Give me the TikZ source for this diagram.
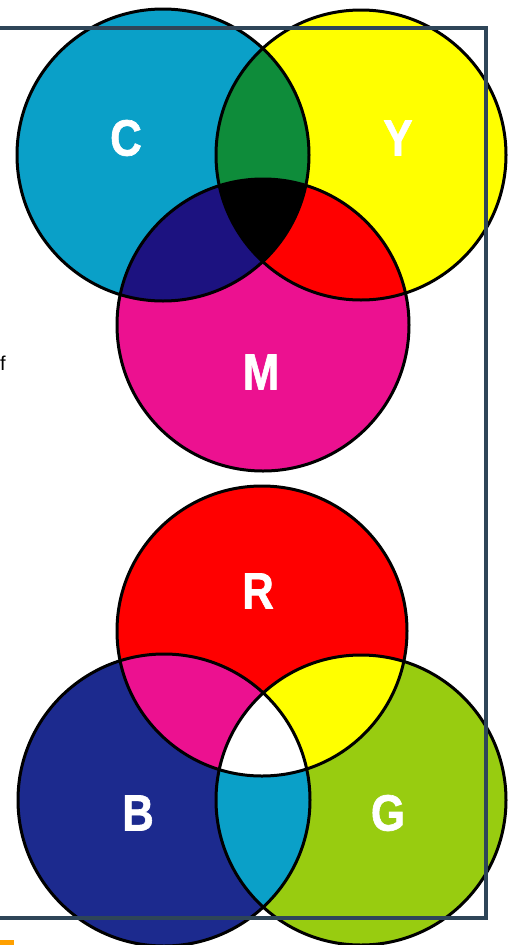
\documentclass[tikz,border=0pt]{standalone}
\usepackage{fontspec}
\setmainfont{Liberation Sans}
\newfontfamily\labfont[FakeBold=1.3]{Liberation Sans Bold}
\definecolor{cC}{HTML}{0AA0C8}
\definecolor{cY}{HTML}{FFFF00}
\definecolor{cM}{HTML}{EC1190}
\definecolor{cGreen}{HTML}{0E8C3A}
\definecolor{cNavy}{HTML}{1C1280}
\definecolor{cRed}{HTML}{FF0000}
\definecolor{cBlue}{HTML}{1C2A8E}
\definecolor{cLime}{HTML}{98CC10}
\definecolor{frameC}{HTML}{2E4558}
\definecolor{orangeC}{HTML}{FFA000}
\begin{document}
\begin{tikzpicture}[x=1pt,y=-1pt,
  ring/.style={draw=black,line width=3pt},
  lab/.style={text=white,font=\labfont\fontsize{51}{51}\selectfont,xscale=0.86,inner sep=0pt},
  framebox/.style={draw=frameC,line width=4.5pt}]
\useasboundingbox (0,0) rectangle (515,945);
% ---- top group: CMY ----
\coordinate (Cc) at (163,155);
\coordinate (Yc) at (361,155);
\coordinate (Mc) at (263,325);
\fill[cC] (Cc) circle (146);
\fill[cY] (Yc) circle (145);
\fill[cM] (Mc) circle (146);
\begin{scope}\clip (Cc) circle (146); \fill[cGreen] (Yc) circle (145); \end{scope}
\begin{scope}\clip (Cc) circle (146); \fill[cNavy] (Mc) circle (146); \end{scope}
\begin{scope}\clip (Yc) circle (145); \fill[cRed] (Mc) circle (146); \end{scope}
\begin{scope}\clip (Cc) circle (146); \clip (Yc) circle (145); \fill[black] (Mc) circle (146); \end{scope}
\draw[ring] (Cc) circle (146);
\draw[ring] (Yc) circle (145);
\draw[ring] (Mc) circle (146);
\node[lab] (lC) at (126,138) {C};
\node[lab] (lY) at (398,138) {Y};
\node[lab] (lM) at (261,372) {M};
% ---- bottom group: RGB ----
\coordinate (Rc) at (262,631);
\coordinate (Bc) at (164,800);
\coordinate (Gc) at (361,800);
\fill[cRed] (Rc) circle (145);
\fill[cBlue] (Bc) circle (146);
\fill[cLime] (Gc) circle (145);
\begin{scope}\clip (Rc) circle (145); \fill[cM] (Bc) circle (146); \end{scope}
\begin{scope}\clip (Rc) circle (145); \fill[cY] (Gc) circle (145); \end{scope}
\begin{scope}\clip (Bc) circle (146); \fill[cC] (Gc) circle (145); \end{scope}
\begin{scope}\clip (Rc) circle (145); \clip (Bc) circle (146); \fill[white] (Gc) circle (145); \end{scope}
\draw[ring] (Rc) circle (145);
\draw[ring] (Bc) circle (146);
\draw[ring] (Gc) circle (145);
\node[lab] (lR) at (258,591) {R};
\node[lab] (lB) at (138,813) {B};
\node[lab] (lG) at (388,813) {G};
% ---- frame and marks ----
\draw[framebox] (-10,28) rectangle (486,918);
\fill[orangeC] (0,940) rectangle (14,945);
\node[anchor=east,inner sep=0pt,font=\fontsize{20}{20}\selectfont,text=black] (ff) at (6,363) {f};
\end{tikzpicture}
\end{document}
